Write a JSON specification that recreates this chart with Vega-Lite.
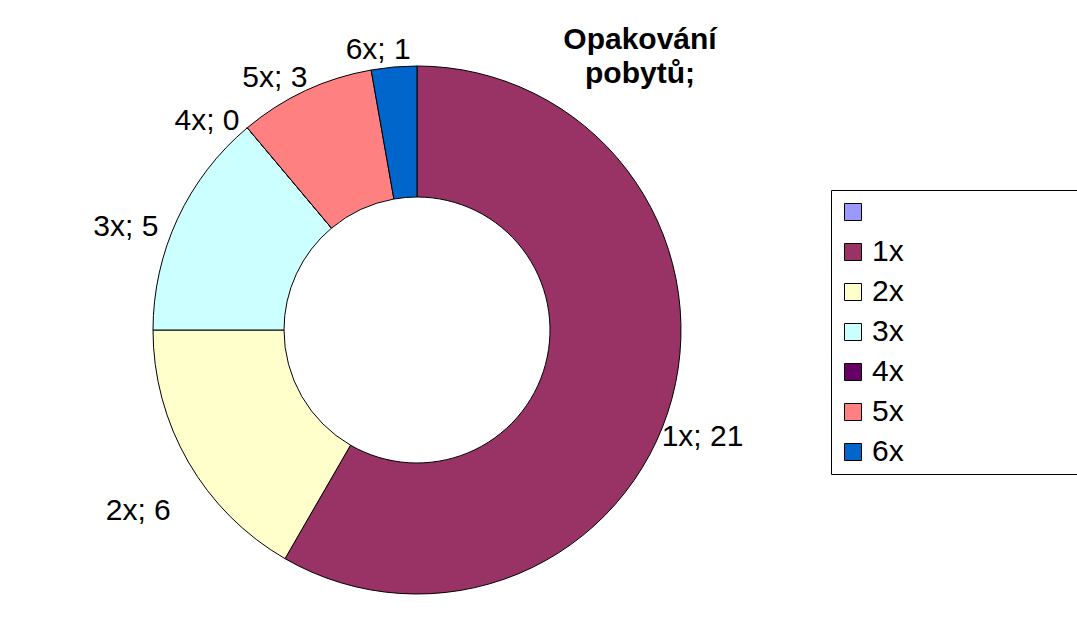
{
  "$schema": "https://vega.github.io/schema/vega-lite/v6.json",
  "width": 834,
  "height": 660,
  "autosize": {"type": "none"},
  "padding": {"left": 0, "top": 0, "right": 243, "bottom": 0},
  "background": "white",
  "config": {"view": {"stroke": null}, "font": "Liberation Sans"},
  "title": {
    "text": ["Opakování", "pobytů;"],
    "font": "Liberation Sans",
    "fontSize": 30,
    "fontWeight": "bold",
    "color": "black",
    "anchor": "middle",
    "frame": "group",
    "baseline": "top",
    "lineHeight": 34,
    "dx": 223,
    "dy": 93
  },
  "data": {
    "values": [
      {"cat": "1x", "n": 21, "label": "1x; 21"},
      {"cat": "2x", "n": 6, "label": "2x; 6"},
      {"cat": "3x", "n": 5, "label": "3x; 5"},
      {"cat": "4x", "n": 0, "label": "4x; 0"},
      {"cat": "5x", "n": 3, "label": "5x; 3"},
      {"cat": "6x", "n": 1, "label": "6x; 1"}
    ]
  },
  "encoding": {
    "theta": {"field": "n", "type": "quantitative", "stack": true},
    "order": {"field": "cat", "type": "ordinal", "sort": "ascending"}
  },
  "layer": [
    {
      "mark": {"type": "arc", "outerRadius": 264, "innerRadius": 133, "stroke": "black", "strokeWidth": 1},
      "encoding": {
        "color": {
          "field": "cat",
          "type": "nominal",
          "scale": {
            "domain": ["", "1x", "2x", "3x", "4x", "5x", "6x"],
            "range": ["#9999FF", "#993366", "#FFFFCC", "#CCFFFF", "#660066", "#FF8080", "#0066CC"]
          },
          "legend": {
            "orient": "none",
            "legendX": 831,
            "legendY": 190,
            "title": "\u00a0",
            "titleOrient": "right",
            "titlePadding": 180,
            "titleFontSize": 10,
            "symbolType": "square",
            "symbolSize": 289,
            "symbolStrokeColor": "black",
            "symbolStrokeWidth": 1,
            "labelFont": "Liberation Sans",
            "labelFontSize": 30,
            "labelColor": "black",
            "labelLimit": 400,
            "rowPadding": 10,
            "padding": 7,
            "strokeColor": "black",
            "fillColor": "white"
          }
        }
      }
    },
    {
      "mark": {"type": "text", "radius": 308, "dx": -12, "dy": 27, "fontSize": 30, "font": "Liberation Sans", "color": "black", "align": "center", "baseline": "middle"},
      "encoding": {"text": {"field": "label", "type": "nominal"}}
    }
  ]
}
